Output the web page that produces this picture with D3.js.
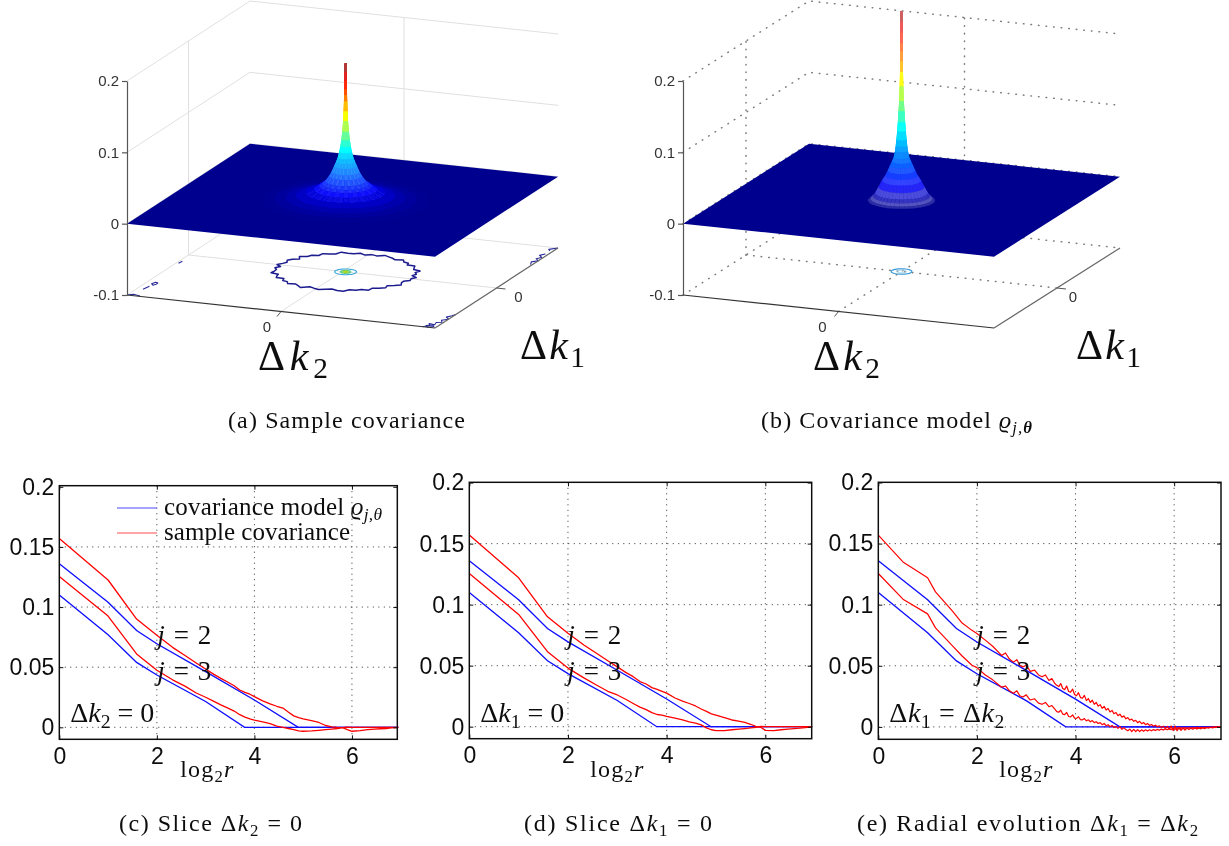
<!DOCTYPE html>
<html>
<head>
<meta charset="utf-8">
<title>Covariance slices</title>
<script src="https://cdn.jsdelivr.net/npm/d3@7"></script>
<style>
	html, body { margin: 0; padding: 0; background: #fff; }
	svg { display: block; }
</style>
</head>
<body>
<div id="chart"></div>
<script>
// ---- values ----

// model curves, same in the three lower panels
const blueX2 = [0, 1, 1.585, 2, 3, 4, 4.9, 6.95];
const blueJ2 = [0.136, 0.104, 0.0805, 0.0695, 0.0463, 0.0227, 0, 0];
const blueX3 = [0, 1, 1.585, 2, 3, 3.8, 6.95];
const blueJ3 = [0.110, 0.077, 0.054, 0.0435, 0.0215, 0, 0];

// sample covariance along the slices
const sliceX = [0, 1, 1.585, 2, 2.322, 2.585, 2.807, 3, 3.17, 3.322, 3.459, 3.585, 3.7, 3.807, 3.907, 4, 4.17, 4.322, 4.459, 4.585, 4.7, 4.807, 4.907, 5, 5.17, 5.322, 5.459, 5.585, 5.7, 5.807, 5.907, 6, 6.17, 6.322, 6.459, 6.585, 6.7, 6.807, 6.907, 6.95];
const red2K2 = [0.157, 0.1225, 0.090, 0.0765, 0.0665, 0.0595, 0.0535, 0.0485, 0.044, 0.0405, 0.0375, 0.0345, 0.031, 0.029, 0.0275, 0.0255, 0.022, 0.0195, 0.0175, 0.016, 0.0125, 0.0095, 0.008, 0.007, 0.0055, 0.004, 0.0015, 0.0003, -0.0001, -0.0003, -0.002, -0.0033, -0.0028, -0.002, -0.0015, -0.0012, -0.001, -0.0005, -0.0002, 0];
const red3K2 = [0.1255, 0.0925, 0.061, 0.0475, 0.0395, 0.034, 0.0285, 0.025, 0.0215, 0.0185, 0.016, 0.0135, 0.0105, 0.0085, 0.007, 0.006, 0.0045, 0.003, 0.001, 0, -0.001, -0.002, -0.003, -0.0033, -0.003, -0.0025, -0.002, -0.0015, -0.001, -0.0003, 0.0002, 0, 0, 0, 0, 0, 0, 0, 0, 0];
const red2K1 = [0.157, 0.122, 0.090, 0.0765, 0.067, 0.060, 0.054, 0.049, 0.0445, 0.041, 0.037, 0.035, 0.032, 0.0305, 0.029, 0.0275, 0.0235, 0.021, 0.019, 0.017, 0.0145, 0.0125, 0.0105, 0.0095, 0.0075, 0.0055, 0.0045, 0.0035, 0.002, 0.0003, -0.0005, -0.003, -0.0032, -0.0025, -0.002, -0.0015, -0.0012, -0.0008, -0.0004, 0];
const red3K1 = [0.1255, 0.092, 0.0615, 0.048, 0.040, 0.034, 0.029, 0.026, 0.0225, 0.019, 0.016, 0.014, 0.0115, 0.010, 0.0095, 0.0085, 0.007, 0.0055, 0.004, 0.003, 0.0015, -0.001, -0.0025, -0.0032, -0.0032, -0.0025, -0.002, -0.0015, -0.001, -0.0005, 0.0002, 0, 0, 0, 0, 0, 0, 0, 0, 0];

// sample covariance along the diagonal, many more points
const radX = [0, 0.5, 1, 1.16, 1.5, 1.7, 1.9, 2, 2.17, 2.32, 2.5, 2.58, 2.66, 2.74, 2.81, 2.87, 2.93, 3, 3.08, 3.17, 3.25, 3.32, 3.39, 3.46, 3.52, 3.58,
	3.62, 3.66, 3.70, 3.74, 3.78, 3.82, 3.86, 3.90, 3.94, 3.98, 4.02, 4.06, 4.10, 4.14, 4.18, 4.22, 4.26, 4.30, 4.34, 4.38, 4.42, 4.46, 4.50, 4.54, 4.58, 4.62, 4.66, 4.70, 4.74, 4.78, 4.82, 4.86, 4.90, 4.94, 4.98,
	5.02, 5.06, 5.10, 5.14, 5.18, 5.22, 5.26, 5.30, 5.34, 5.38, 5.42, 5.46, 5.50, 5.54, 5.58, 5.62, 5.66, 5.70, 5.74, 5.78, 5.82, 5.86, 5.90, 5.94, 5.98,
	6.02, 6.06, 6.10, 6.14, 6.18, 6.22, 6.26, 6.30, 6.34, 6.38, 6.42, 6.46, 6.50, 6.54, 6.58, 6.62, 6.66, 6.70, 6.74, 6.78, 6.82, 6.86, 6.90, 6.95];
const red2Rad = [0.157, 0.135, 0.122, 0.1105, 0.095, 0.085, 0.079, 0.0765, 0.071, 0.066, 0.0585, 0.0605, 0.0555, 0.053, 0.055, 0.0505, 0.049, 0.0505, 0.0455, 0.0465, 0.0425, 0.041, 0.0425, 0.038, 0.0395, 0.0355,
	0.034, 0.033, 0.0355, 0.0315, 0.0305, 0.0335, 0.029, 0.0285, 0.031, 0.0265, 0.0255, 0.028, 0.024, 0.0235, 0.0258, 0.0215, 0.0232, 0.02, 0.0218, 0.0185, 0.02, 0.017, 0.0182, 0.0152, 0.0168, 0.0138, 0.015, 0.0122, 0.0135, 0.0108, 0.0118, 0.0092, 0.0104, 0.008, 0.009,
	0.0066, 0.0076, 0.0056, 0.0064, 0.0046, 0.0054, 0.0034, 0.0046, 0.0026, 0.0036, 0.0018, 0.0028, 0.0012, 0.002, 0.0006, 0.0014, 0.0002, 0.0008, -0.0004, 0.0006, -0.0012, 0.0004, -0.002, 0.0008, -0.003,
	0.0006, -0.0032, -0.0002, -0.0028, -0.0006, -0.0026, -0.0008, -0.0022, -0.001, -0.002, -0.0008, -0.0018, -0.0008, -0.0016, -0.0006, -0.0014, -0.0004, -0.001, -0.0002, -0.0008, 0, -0.0004, 0.0003, 0];
const red3Rad = [0.1255, 0.1045, 0.0925, 0.081, 0.0665, 0.058, 0.0505, 0.0485, 0.0425, 0.0385, 0.0325, 0.0335, 0.0295, 0.0275, 0.0295, 0.0255, 0.0245, 0.0262, 0.022, 0.023, 0.0195, 0.0185, 0.020, 0.0165, 0.0175, 0.0145,
	0.0125, 0.012, 0.0137, 0.0105, 0.010, 0.0118, 0.0085, 0.0082, 0.0098, 0.0072, 0.007, 0.0083, 0.006, 0.0058, 0.0068, 0.005, 0.0058, 0.0042, 0.0052, 0.0035, 0.0042, 0.0028, 0.0035, 0.0018, 0.0028, 0.001, 0.0018, 0.0002, 0.0012, -0.0005, 0.0004, -0.0012, 0.0002, -0.002, -0.0006,
	-0.0022, -0.0032, -0.0018, -0.0038, -0.002, -0.0038, -0.0022, -0.0038, -0.0024, -0.0036, -0.0024, -0.0034, -0.0024, -0.0032, -0.0022, -0.003, -0.002, -0.0028, -0.0018, -0.0026, -0.0016, -0.0024, -0.0014, -0.0022, -0.001,
	-0.002, -0.0008, -0.0018, -0.0006, -0.0016, -0.0006, -0.0014, -0.0006, -0.0012, -0.0005, -0.001, -0.0004, -0.001, -0.0004, -0.0008, -0.0004, -0.0006, -0.0003, -0.0005, -0.0002, -0.0004, 0, -0.0002, 0];

const xTicks = [0, 2, 4, 6];
const yTicks = [0, 0.05, 0.1, 0.15, 0.2];
const yTickLabels = ['0', '0.05', '0.1', '0.15', '0.2'];

// peak profile of the surfaces: radius in the plane, height
const ringRadA = [0.004, 0.0045, 0.005, 0.0055, 0.006, 0.007, 0.009, 0.012, 0.017, 0.023, 0.029, 0.036, 0.045, 0.055, 0.067, 0.082, 0.097, 0.12, 0.14, 0.16, 0.19, 0.24, 0.30, 0.36, 0.43, 0.50];
const ringZA = [0.192, 0.180, 0.168, 0.156, 0.148, 0.139, 0.125, 0.112, 0.097, 0.085, 0.076, 0.068, 0.060, 0.054, 0.048, 0.040, 0.034, 0.027, 0.023, 0.020, 0.015, 0.0105, 0.0065, 0.0035, 0.0015, 0];
const ringRadB = [0.003, 0.0035, 0.004, 0.0045, 0.005, 0.0055, 0.006, 0.008, 0.011, 0.015, 0.019, 0.023, 0.028, 0.032, 0.036, 0.044, 0.055, 0.067, 0.08, 0.095, 0.115, 0.135, 0.155, 0.17, 0.185, 0.20];
const ringZB = [0.265, 0.250, 0.235, 0.220, 0.209, 0.195, 0.180, 0.160, 0.139, 0.125, 0.110, 0.097, 0.085, 0.076, 0.069, 0.060, 0.054, 0.048, 0.041, 0.034, 0.027, 0.018, 0.010, 0.0056, 0.002, 0];
// how pale the mesh lines make each ring look
const ringPaleA = [0.25, 0.2, 0.1, 0, 0, 0, 0, 0, 0, 0, 0, 0.03, 0.06, 0.1, 0.14, 0.16, 0.16, 0.14, 0.12, 0.1, 0.05, 0.02, 0, 0, 0, 0];
const ringPaleB = [0.4, 0.38, 0.35, 0.32, 0.28, 0.22, 0.14, 0.08, 0, 0, 0, 0, 0, 0.02, 0.04, 0.06, 0.08, 0.1, 0.12, 0.14, 0.18, 0.22, 0.26, 0.28, 0.26, 0.22];

// floor contours of panel (a)
const contourRadA = [0.425, 0.445, 0.41, 0.43, 0.42, 0.45, 0.415, 0.425, 0.44, 0.405, 0.43, 0.42, 0.445, 0.41, 0.425, 0.435, 0.45, 0.415, 0.43, 0.405, 0.44, 0.42, 0.43, 0.455, 0.415, 0.425, 0.44, 0.41, 0.43, 0.42, 0.45, 0.405, 0.43, 0.44, 0.415, 0.425, 0.445, 0.41, 0.435, 0.42, 0.43, 0.45, 0.41, 0.425, 0.44, 0.405, 0.43, 0.42, 0.445, 0.415, 0.43, 0.455, 0.41, 0.425, 0.44, 0.42, 0.405, 0.435, 0.45, 0.415, 0.43, 0.42, 0.445, 0.41, 0.425, 0.44, 0.405, 0.43, 0.45, 0.42, 0.41, 0.435];
const cornerContours = [
	[[-0.93, -0.67], [-0.95, -0.66], [-0.96, -0.70], [-0.94, -0.73], [-0.93, -0.70], [-0.93, -0.67]],
	[[-0.95, -0.76], [-0.96, -0.84]],
	[[-1, -1], [-0.97, -0.97], [-0.92, -0.99]],
	[[-0.98, -0.15], [-0.985, -0.2]],
	[[0.92, -1], [0.95, -0.96], [0.93, -0.92], [0.97, -0.93], [0.96, -0.88], [0.99, -0.86], [0.97, -0.82], [1, -0.78], [0.97, -0.74], [0.99, -0.70], [1, -0.66]],
	[[0.95, -1], [0.98, -0.97], [0.96, -0.94], [0.93, -0.97], [0.95, -1]],
	[[0.99, 0.58], [0.97, 0.64], [1, 0.68], [0.97, 0.72], [0.99, 0.76], [0.96, 0.8], [0.98, 0.84], [0.96, 0.8]],
	[[0.98, 0.92], [0.96, 0.95], [1, 1]]
];

const zTicks = [-0.1, 0, 0.1, 0.2];
const zTickLabels = ['-0.1', '0', '0.1', '0.2'];

const legendLabels = ['covariance model ', 'sample covariance'];

(function() {
	const W = 1229, H = 846;
	const mathFont = '"Liberation Serif", serif';
	const tickFont = '"Liberation Sans", Arial, sans-serif';

	const svg = d3.select('#chart').append('svg')
		.attr('width', W)
		.attr('height', H)
		.attr('viewBox', '0 0 ' + W + ' ' + H);

	const defs = svg.append('defs');
	defs.append('filter').attr('id', 'soft')
		.attr('x', '-5%').attr('y', '-5%').attr('width', '110%').attr('height', '110%')
		.append('feGaussianBlur').attr('stdDeviation', 0.45);
	defs.append('filter').attr('id', 'soft2')
		.attr('x', '-5%').attr('y', '-5%').attr('width', '110%').attr('height', '110%')
		.append('feGaussianBlur').attr('stdDeviation', 0.3);

	// Text with subscripts. Parts are [string, kind], kind: r, i, sub, isub, bsub
	function mathText(parent, x, y, parts, size, width) {
		const t = parent.append('text')
			.attr('x', x)
			.attr('y', y)
			.style('font-family', mathFont)
			.style('font-size', size + 'px')
			.style('fill', '#111');
		let wasSub = false;
		parts.forEach(function(p) {
			const kind = p[1] || 'r';
			const isSub = kind.indexOf('sub') !== -1;
			const span = t.append('tspan').text(p[0]);
			if (kind === 'i' || kind === 'isub') span.style('font-style', 'italic');
			if (kind === 'bsub') span.style('font-style', 'italic').style('font-weight', 'bold');
			if (isSub) span.style('font-size', (size * 0.7) + 'px');
			if (isSub && !wasSub) span.attr('dy', size * 0.2);
			if (!isSub && wasSub) span.attr('dy', -size * 0.2);
			wasSub = isSub;
		});
		// stretch to the measured width of the original typesetting
		if (width) {
			const len = t.node().getComputedTextLength();
			const n = t.text().length;
			t.style('letter-spacing', ((width - len) / (n - 1)) + 'px');
		}
		return t;
	}

	// ---- 3D panels ----

	function draw3D(cfg) {
		const g = svg.append('g').attr('filter', 'url(#soft)');

		// z axis scale: the floor sits at -0.1, box top at 0.2
		const zPx = d3.scaleLinear().domain([-0.1, 0.2]).range([0, 214]);

		function project(u, v, z) {
			return [
				cfg.cx + u * cfg.ux + v * cfg.vx,
				cfg.cy + u * cfg.uy + v * cfg.vy - zPx(z)
			];
		}
		const line3 = d3.line();

		const grid = g.append('g')
			.attr('fill', 'none')
			.attr('stroke', cfg.gridColor)
			.attr('stroke-width', cfg.gridWidth)
			.attr('stroke-dasharray', cfg.gridDash)
			.attr('stroke-linecap', 'round');

		zTicks.forEach(function(z) {
			grid.append('path').attr('d', line3([project(-1, -1, z), project(-1, 1, z), project(1, 1, z)]));
		});
		// verticals on the two walls and the cross on the floor
		grid.append('path').attr('d', line3([project(-1, 0, -0.1), project(-1, 0, 0.2)]));
		grid.append('path').attr('d', line3([project(0, 1, -0.1), project(0, 1, 0.2)]));
		grid.append('path').attr('d', line3([project(-1, 0, -0.1), project(1, 0, -0.1)]));
		grid.append('path').attr('d', line3([project(0, -1, -0.1), project(0, 1, -0.1)]));

		// floor contours
		const pu = cfg.peakU;
		const contours = g.append('g').attr('fill', 'none').attr('stroke-linejoin', 'round');
		if (cfg.contourRad) {
			const ring = cfg.contourRad.map(function(r, i) {
				const a = i / cfg.contourRad.length * 2 * Math.PI;
				return project(pu + r * Math.cos(a), r * Math.sin(a), -0.1);
			});
			contours.append('path')
				.attr('d', d3.line().curve(d3.curveLinearClosed)(ring))
				.attr('stroke', '#1c1c8e')
				.attr('stroke-width', 1.5);
			cornerContours.forEach(function(c) {
				contours.append('path')
					.attr('d', line3(c.map(function(p) { return project(p[0], p[1], -0.1); })))
					.attr('stroke', '#2a2a9a')
					.attr('stroke-width', 1.1);
			});
		}
		cfg.innerContours.forEach(function(c) {
			const ring = d3.range(0, 36).map(function(i) {
				const a = i / 36 * 2 * Math.PI;
				return project(pu + c.r * Math.cos(a), c.r * Math.sin(a), -0.1);
			});
			contours.append('path')
				.attr('d', d3.line().curve(d3.curveLinearClosed)(ring))
				.attr('stroke', c.color)
				.attr('stroke-width', c.width);
		});

		// the flat part of the surface at height 0
		const planeColor = '#00008e';
		g.append('path')
			.attr('d', line3([project(-1, -1, 0), project(1, -1, 0), project(1, 1, 0), project(-1, 1, 0)]) + 'Z')
			.attr('fill', planeColor);

		// the peak as small facets, painted from the back to the front
		const jet = d3.scaleLinear()
			.domain([0, cfg.jetLow, 0.375, 0.625, 0.875, 1].map(function(t) { return t * cfg.peakTop; }))
			.range(['#00008e', '#0000ff', '#00ffff', '#ffff00', '#ff0000', '#800000'])
			.clamp(true);

		const sectors = 40;
		const facets = [];
		for (let k = 0; k < sectors; k++) {
			const a0 = k / sectors * 2 * Math.PI;
			const a1 = (k + 1) / sectors * 2 * Math.PI;
			for (let i = 0; i < cfg.ringRad.length - 1; i++) {
				const r0 = cfg.ringRad[i], r1 = cfg.ringRad[i + 1];
				const z0 = cfg.ringZ[i], z1 = cfg.ringZ[i + 1];
				const am = (a0 + a1) / 2;
				const rm = (r0 + r1) / 2;
				const front = rm * Math.cos(am) * cfg.uy + rm * Math.sin(am) * cfg.vy;
				// mesh lines: speckle in (a), faint concentric rings in (b), none on the thin tip
				const odd = cfg.speckle ? (k + i) % 2 : i % 2;
				let pale = (cfg.ringPale[i] + cfg.ringPale[i + 1]) / 2;
				if (i > 10) pale = pale * (odd ? 1.25 : 0.75) * (front > -1 ? 1 : 0.5);
				facets.push({
					pts: [
						project(pu + r0 * Math.cos(a0), r0 * Math.sin(a0), z0),
						project(pu + r0 * Math.cos(a1), r0 * Math.sin(a1), z0),
						project(pu + r1 * Math.cos(a1), r1 * Math.sin(a1), z1),
						project(pu + r1 * Math.cos(a0), r1 * Math.sin(a0), z1)
					],
					color: d3.interpolateRgb(jet((z0 + z1) / 2), '#ffffff')(pale),
					front: front
				});
			}
		}
		facets.sort(function(a, b) { return a.front - b.front; });

		g.append('g').selectAll('path')
			.data(facets)
			.join('path')
			.attr('d', function(d) { return line3(d.pts) + 'Z'; })
			.attr('fill', function(d) { return d.color; })
			.attr('stroke', function(d) { return d.color; })
			.attr('stroke-width', 0.3);

		// floor front edges
		g.append('path')
			.attr('d', line3([project(-1, -1, -0.1), project(1, -1, -0.1)]))
			.attr('fill', 'none').attr('stroke', '#333').attr('stroke-width', 1.2);
		g.append('path')
			.attr('d', line3([project(1, -1, -0.1), project(1, 1, -0.1)]))
			.attr('fill', 'none').attr('stroke', '#666').attr('stroke-width', 1.2);

		// z axis with its ticks
		const base = project(-1, -1, -0.1);
		const zAxisScale = d3.scaleLinear().domain([-0.1, 0.2]).range([base[1], base[1] - 214]);
		const zAxis = g.append('g')
			.attr('transform', 'translate(' + base[0] + ',0)')
			.call(d3.axisLeft(zAxisScale)
				.tickValues(zTicks)
				.tickSize(5)
				.tickSizeOuter(0)
				.tickFormat(function(d, i) { return zTickLabels[i]; }));
		zAxis.selectAll('.domain, .tick line').attr('stroke', '#555').attr('stroke-width', 1.2);
		zAxis.selectAll('.tick text')
			.style('font-family', tickFont)
			.style('font-size', '15px')
			.style('fill', '#333');

		// little ticks at zero on the floor edges
		const t2 = project(0, -1, -0.1);
		const t1 = project(1, 0, -0.1);
		g.append('path').attr('d', line3([t2, [t2[0] - 4, t2[1] + 5]])).attr('stroke', '#555').attr('fill', 'none');
		g.append('path').attr('d', line3([t1, [t1[0] + 9, t1[1] + 1]])).attr('stroke', '#555').attr('fill', 'none');
		g.append('text')
			.attr('x', t2[0] + cfg.zeroK2[0]).attr('y', t2[1] + cfg.zeroK2[1])
			.attr('text-anchor', 'middle')
			.style('font-family', tickFont).style('font-size', '15px').style('fill', '#333')
			.text('0');
		g.append('text')
			.attr('x', t1[0] + cfg.zeroK1[0]).attr('y', t1[1] + cfg.zeroK1[1])
			.attr('text-anchor', 'middle')
			.style('font-family', tickFont).style('font-size', '15px').style('fill', '#333')
			.text('0');

		mathText(g, cfg.labelK2[0], cfg.labelK2[1], [['Δ'], ['k', 'i'], ['2', 'sub']], 42, cfg.labelK2[2]);
		mathText(g, cfg.labelK1[0], cfg.labelK1[1], [['Δ'], ['k', 'i'], ['1', 'sub']], 42, cfg.labelK1[2]);
	}

	draw3D({
		cx: 342.5, cy: 271.5, ux: 154, uy: 16.5, vx: 61.5, vy: -40,
		peakU: 0.02, peakTop: 0.192, jetLow: 0.09, speckle: true,
		gridColor: '#e0e0e0', gridWidth: 1, gridDash: null,
		ringRad: ringRadA, ringZ: ringZA, ringPale: ringPaleA,
		contourRad: contourRadA,
		innerContours: [
			{ r: 0.066, color: '#35a8dc', width: 1.1 },
			{ r: 0.03, color: '#66cc88', width: 1.6 },
			{ r: 0.012, color: '#a8d820', width: 1.6 }
		],
		zeroK2: [-14, 20], zeroK1: [22, 14],
		labelK2: [258, 370, 70], labelK1: [520, 359, 65]
	});

	draw3D({
		cx: 901.5, cy: 271.5, ux: 155.5, uy: 16.5, vx: 63, vy: -40,
		peakU: 0, peakTop: 0.27, jetLow: 0.09, speckle: false,
		gridColor: '#7c7c7c', gridWidth: 1.5, gridDash: '0.6 7',
		ringRad: ringRadB, ringZ: ringZB, ringPale: ringPaleB,
		contourRad: null,
		innerContours: [
			{ r: 0.062, color: '#3a9ad8', width: 1.2 },
			{ r: 0.03, color: '#9fd4ea', width: 1 }
		],
		zeroK2: [-16, 20], zeroK1: [16, 14],
		labelK2: [813, 370, 67], labelK1: [1076, 359, 65]
	});

	// ---- lower slice panels ----

	function drawSlice(cfg) {
		const g = svg.append('g').attr('filter', 'url(#soft2)');
		const x = d3.scaleLinear().domain([0, cfg.xMax]).range([cfg.left, cfg.right]);
		const y = d3.scaleLinear().domain([0, 0.2]).range([cfg.y0, cfg.y20]);

		// dotted grid
		const grid = g.append('g')
			.attr('stroke', '#333')
			.attr('stroke-width', 1)
			.attr('stroke-dasharray', '1 4.5');
		xTicks.slice(1).forEach(function(t) {
			grid.append('line').attr('x1', x(t)).attr('x2', x(t)).attr('y1', cfg.top).attr('y2', cfg.bottom);
		});
		yTicks.slice(0, 4).forEach(function(t) {
			grid.append('line').attr('x1', cfg.left).attr('x2', cfg.right).attr('y1', y(t)).attr('y2', y(t));
		});

		const line = d3.line()
			.x(function(d) { return x(d[0]); })
			.y(function(d) { return y(d[1]); });

		[[blueX2, blueJ2], [blueX3, blueJ3]].forEach(function(s) {
			g.append('path')
				.attr('d', line(d3.zip(s[0], s[1])))
				.attr('fill', 'none')
				.attr('stroke', '#0a0aff')
				.attr('stroke-width', 1.3);
		});
		cfg.reds.forEach(function(s) {
			g.append('path')
				.attr('d', line(d3.zip(cfg.redX, s)))
				.attr('fill', 'none')
				.attr('stroke', '#ff0505')
				.attr('stroke-width', cfg.redWidth)
				.attr('stroke-linejoin', 'round');
		});

		// axes, mirrored on the far sides like a boxed plot
		const tickStyle = function(sel) {
			sel.select('.domain').remove();
			sel.selectAll('.tick line').attr('stroke', '#111').attr('stroke-width', 1);
			sel.selectAll('.tick text')
				.style('font-family', tickFont)
				.style('font-size', '23px')
				.style('fill', '#111');
		};
		g.append('g').attr('transform', 'translate(0,' + cfg.bottom + ')')
			.call(d3.axisBottom(x).tickValues(xTicks).tickSize(-4).tickPadding(8).tickFormat(d3.format('d')))
			.call(tickStyle);
		g.append('g').attr('transform', 'translate(0,' + cfg.top + ')')
			.call(d3.axisTop(x).tickValues(xTicks).tickSize(-4).tickFormat(''))
			.call(tickStyle);
		g.append('g').attr('transform', 'translate(' + cfg.left + ',0)')
			.call(d3.axisLeft(y).tickValues(yTicks).tickSize(-4).tickPadding(5).tickFormat(function(d, i) { return yTickLabels[i]; }))
			.call(tickStyle);
		g.append('g').attr('transform', 'translate(' + cfg.right + ',0)')
			.call(d3.axisRight(y).tickValues(yTicks).tickSize(-4).tickFormat(''))
			.call(tickStyle);

		g.append('rect')
			.attr('x', cfg.left).attr('y', cfg.top)
			.attr('width', cfg.right - cfg.left).attr('height', cfg.bottom - cfg.top)
			.attr('fill', 'none').attr('stroke', '#111').attr('stroke-width', 1.5);

		// annotations
		mathText(g, cfg.left + 98, 644, [['j', 'i'], [' = 2']], 27, 54);
		mathText(g, cfg.left + 98, 680, [['j', 'i'], [' = 3']], 27, 54);
		mathText(g, cfg.left + 11, 722, cfg.note, 28, cfg.noteWidth);
		mathText(g, cfg.left + 121, 777, [['log'], ['2', 'sub'], ['r', 'i']], 24, 53);
	}

	drawSlice({
		left: 59.3, right: 397.3, top: 485.7, bottom: 739.3, y0: 727.3, y20: 486.8, xMax: 6.93,
		redX: sliceX, reds: [red2K2, red3K2], redWidth: 1.3,
		note: [['Δ'], ['k', 'i'], ['2', 'sub'], [' = 0']], noteWidth: 84
	});
	drawSlice({
		left: 469.3, right: 811.7, top: 482.3, bottom: 738.7, y0: 726.7, y20: 482.6, xMax: 6.94,
		redX: sliceX, reds: [red2K1, red3K1], redWidth: 1.3,
		note: [['Δ'], ['k', 'i'], ['1', 'sub'], [' = 0']], noteWidth: 84
	});
	drawSlice({
		left: 878.3, right: 1221, top: 482.3, bottom: 739.3, y0: 726.9, y20: 482.5, xMax: 6.95,
		redX: radX, reds: [red2Rad, red3Rad], redWidth: 1.2,
		note: [['Δ'], ['k', 'i'], ['1', 'sub'], [' = Δ'], ['k', 'i'], ['2', 'sub']], noteWidth: 115
	});

	// legend inside panel (c)
	const legend = svg.append('g').attr('filter', 'url(#soft2)');
	legend.append('line').attr('x1', 117).attr('x2', 157).attr('y1', 508).attr('y2', 508)
		.attr('stroke', '#4a4aff').attr('stroke-width', 1.2);
	legend.append('line').attr('x1', 117).attr('x2', 157).attr('y1', 533).attr('y2', 533)
		.attr('stroke', '#ff4a4a').attr('stroke-width', 1.2);
	mathText(legend, 164, 515, [[legendLabels[0]], ['ϱ', 'i'], ['j,θ', 'isub']], 25, 218);
	mathText(legend, 164, 540, [[legendLabels[1]]], 25, 186);

	// captions
	const captions = svg.append('g').attr('filter', 'url(#soft2)');
	mathText(captions, 228, 428, [['(a) Sample covariance']], 24, 237);
	mathText(captions, 761, 428, [['(b) Covariance model '], ['ϱ', 'i'], ['j,', 'isub'], ['θ', 'bsub']], 24, 271);
	mathText(captions, 119, 831, [['(c) Slice Δ'], ['k', 'i'], ['2', 'sub'], [' = 0']], 24, 183);
	mathText(captions, 524, 831, [['(d) Slice Δ'], ['k', 'i'], ['1', 'sub'], [' = 0']], 24, 188);
	mathText(captions, 857, 831, [['(e) Radial evolution Δ'], ['k', 'i'], ['1', 'sub'], [' = Δ'], ['k', 'i'], ['2', 'sub']], 24, 341);
})();
</script>
</body>
</html>
